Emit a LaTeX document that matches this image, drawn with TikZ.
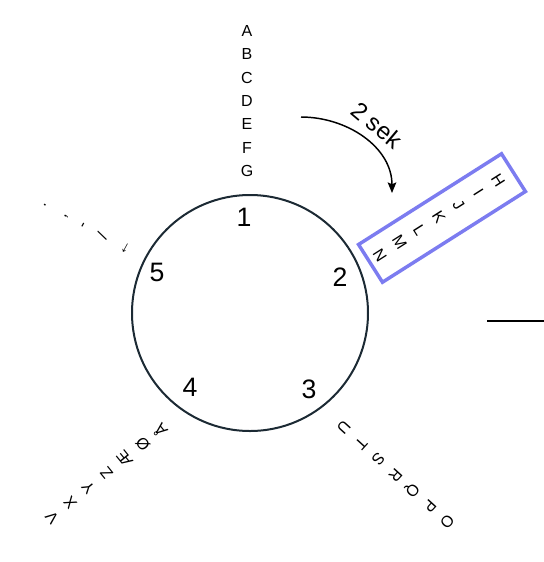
\documentclass[tikz,border=0pt]{standalone}
\usepackage{fontspec}
\setmainfont{Liberation Sans}
\usetikzlibrary{arrows.meta}
\definecolor{ringcol}{RGB}{28,42,52}
\definecolor{boxcol}{RGB}{124,124,240}
\begin{document}
\begin{tikzpicture}[x=0.75pt,y=-0.75pt,
  num/.style={font=\fontsize{20}{24}\selectfont, inner sep=0pt},
  stack/.style={font=\fontsize{12}{17.5}\selectfont, align=center, inner sep=0pt},
  ring/.style={circle, draw=ringcol, line width=1.5pt, minimum size=177pt, inner sep=0pt},
  framebox/.style={draw=boxcol, line width=2.6pt, inner sep=0pt},
  timearrow/.style={line width=1.1pt, -{Stealth[length=8pt,width=6.5pt,inset=1.5pt]}},
]
\useasboundingbox (0,0) rectangle (544,562);
% wheel
\node[ring] (wheel) at (250,313) {};
\node[num] (n1) at (244,217) {1};
\node[num] (n2) at (340,277) {2};
\node[num] (n3) at (309,389) {3};
\node[num] (n4) at (190,387) {4};
\node[num] (n5) at (157,272) {5};
% letter queues
\node[stack] (armA) at (247,101) {A\\B\\C\\D\\E\\F\\G};
\node[stack, rotate=-57.6] (armH) at (439,217.5) {H\\I\\J\\K\\L\\M\\N};
\node[stack, rotate=227.6] (armO) at (395.5,475) {O\\P\\Q\\R\\S\\T\\U};
\node[stack, rotate=128.9] (armV) at (106.5,473.5) {V\\X\\Y\\Z\\Æ\\Ø\\Å};
\node[stack, rotate=61.4] (armP) at (86,227) {.\\,\\-\\/\\←};
% highlight box
\node[framebox, rotate=32.4, minimum width=127pt, minimum height=33.5pt] (hbox) at (442,218) {};
% time arrow
\coordinate (arrS) at (301,117);
\coordinate (arrE) at (392,193);
\draw[timearrow] (arrS) .. controls (347,117) and (392,147) .. (arrE);
\node[font=\fontsize{18}{21}\selectfont, rotate=-40, inner sep=1pt] (lbl) at (377,125) {2 sek};
% line at right edge
\coordinate (lineL) at (487,321);
\coordinate (lineR) at (544,321);
\draw[line width=1.9pt] (lineL) -- (lineR);
\end{tikzpicture}
\end{document}
